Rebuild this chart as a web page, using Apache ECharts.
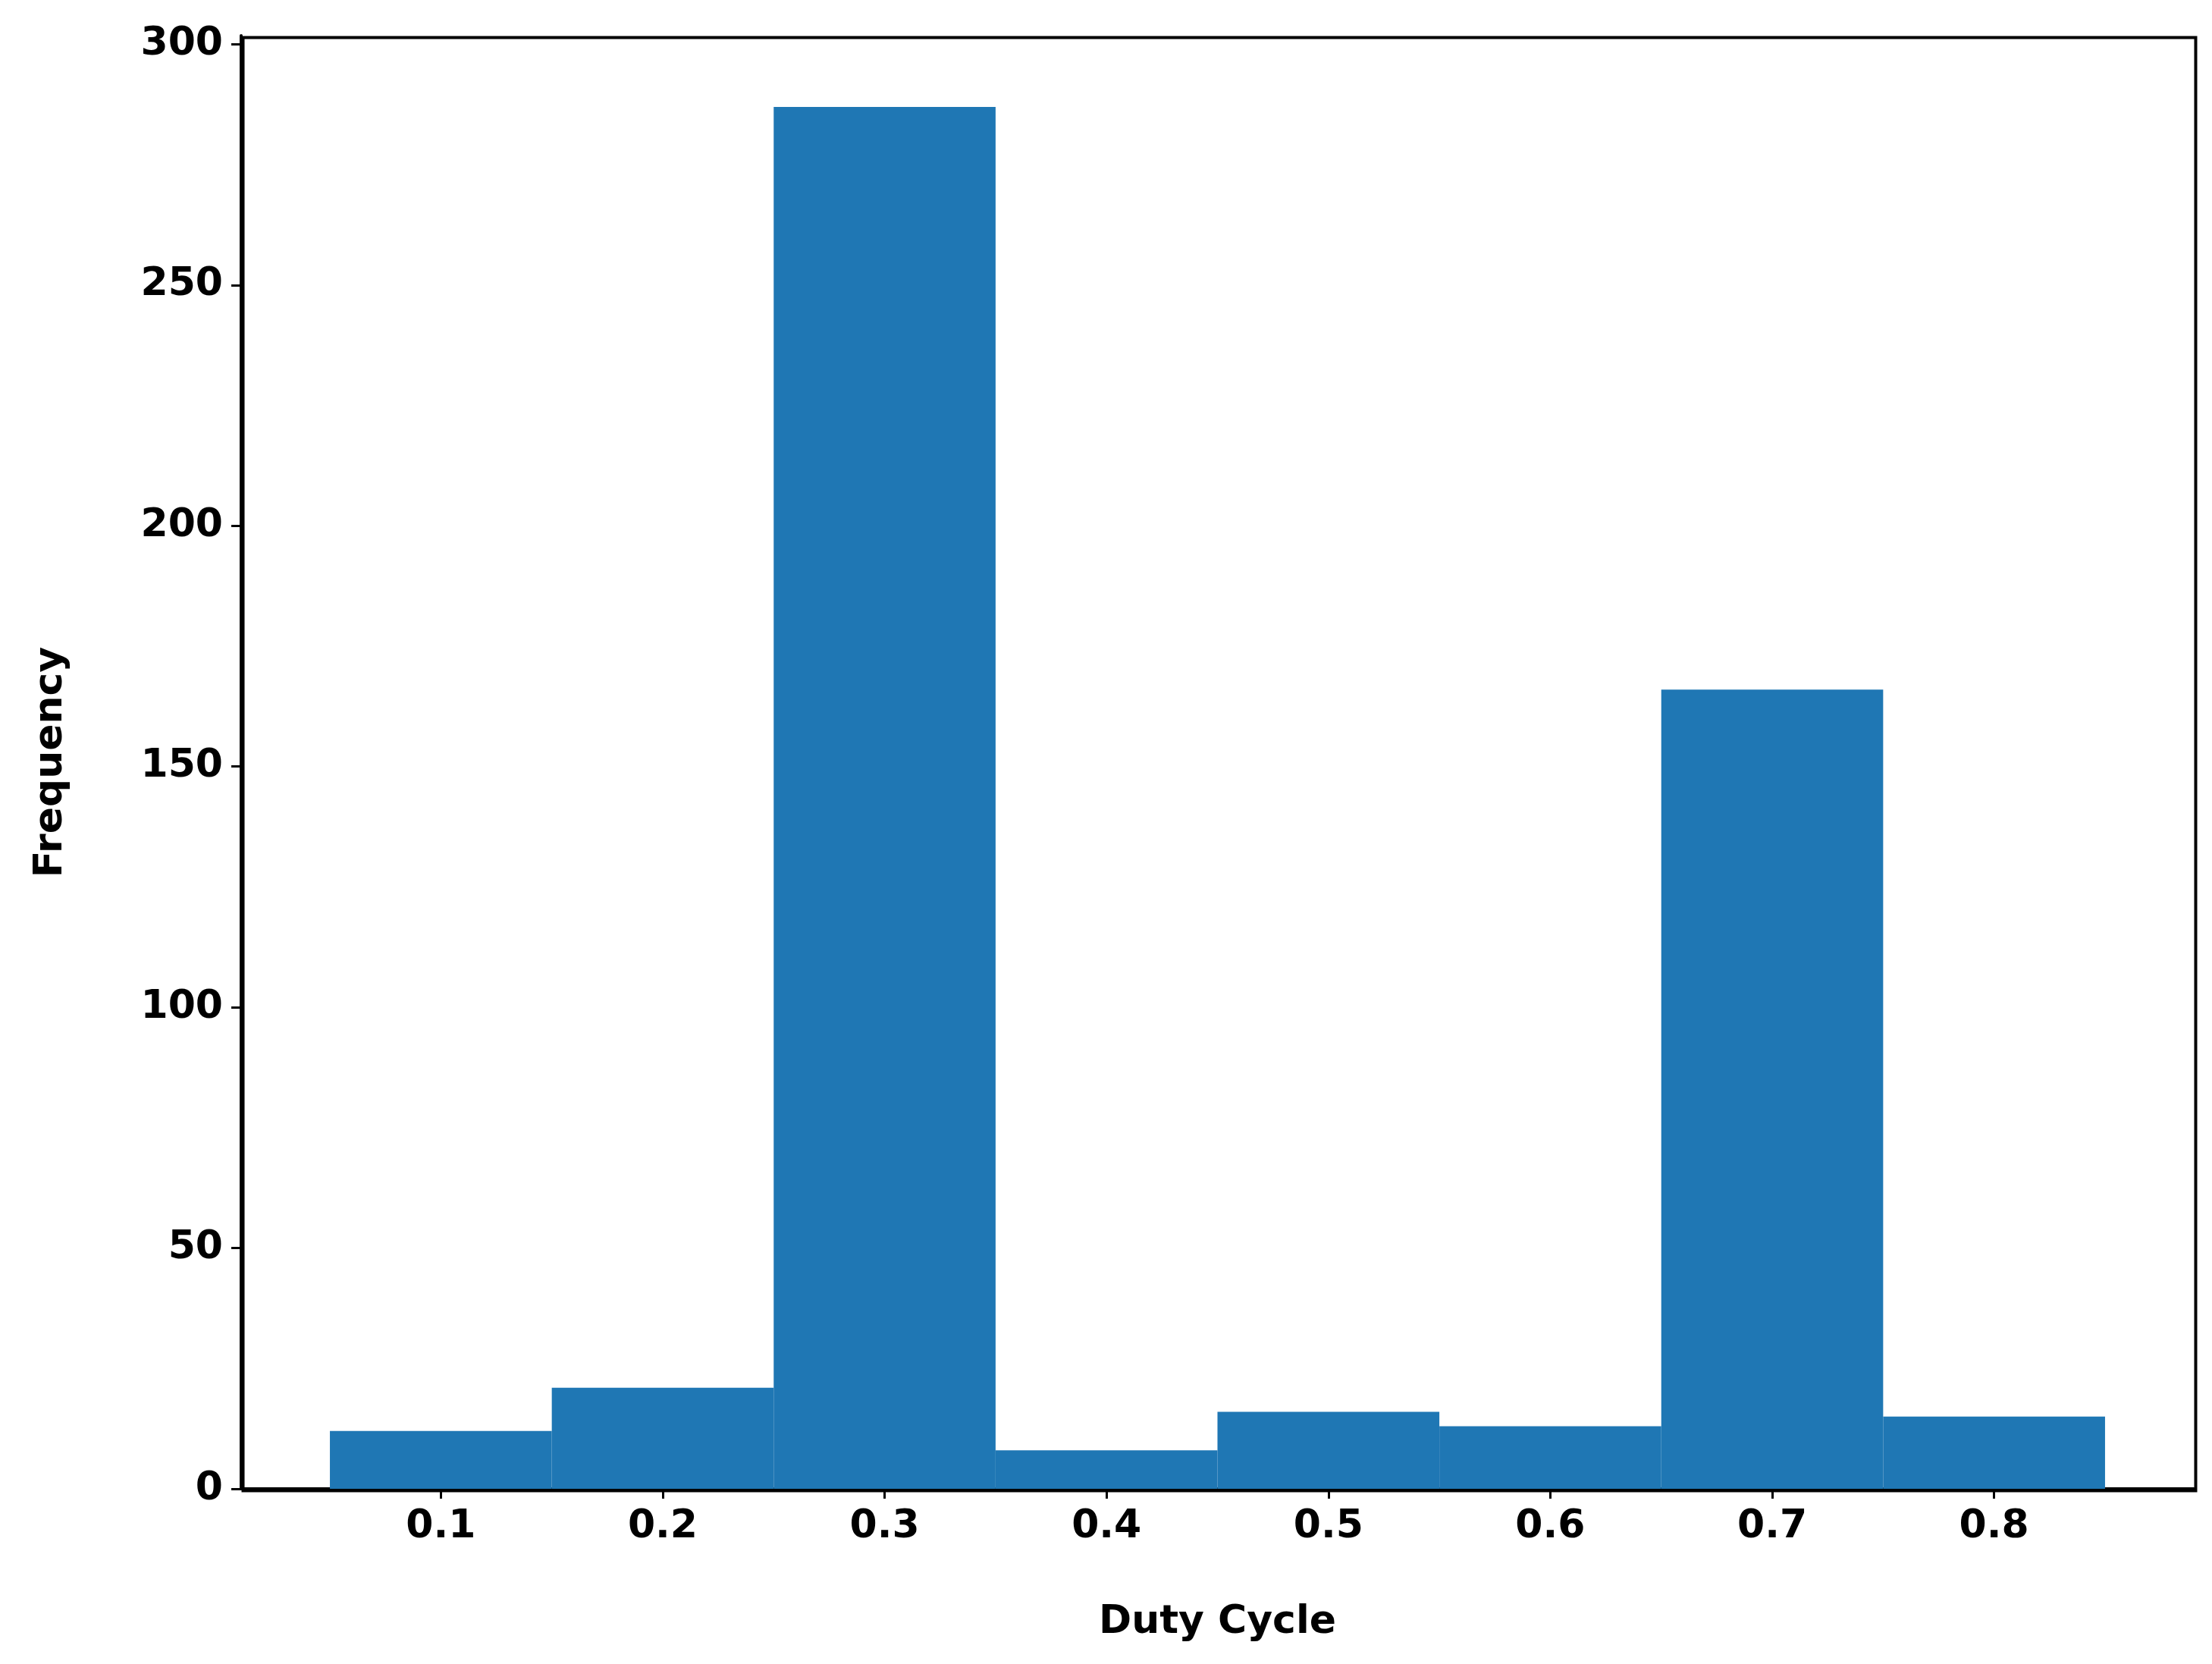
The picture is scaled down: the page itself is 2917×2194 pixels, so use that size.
<!DOCTYPE html>
<html>
<head>
<meta charset="UTF-8">
<script src="https://cdn.jsdelivr.net/npm/echarts@6/dist/echarts.min.js"></script>
<style>
  html, body { margin: 0; padding: 0; background: #fff; }
  #main { width: 2917px; height: 2194px; }
</style>
</head>
<body>
<div id="main"></div>
<script>
// histogram bins (left edge, right edge) and counts
const binStart = [0.05, 0.15, 0.25, 0.35, 0.45, 0.55, 0.65, 0.75];
const binEnd   = [0.15, 0.25, 0.35, 0.45, 0.55, 0.65, 0.75, 0.85];
const counts   = [12, 21, 287, 8, 16, 13, 166, 15];
const xTicks = [0.1, 0.2, 0.3, 0.4, 0.5, 0.6, 0.7, 0.8];

const font = 'DejaVu Sans';
const data = counts.map((c, i) => [binStart[i], binEnd[i], c]);

const chart = echarts.init(document.getElementById('main'));
chart.setOption({
  animation: false,
  grid: { left: 318, right: 24, top: 47, bottom: 231 },
  xAxis: {
    type: 'value', min: 0.01, max: 0.89,
    name: 'Duty Cycle', nameLocation: 'middle', nameGap: 150,
    nameTextStyle: { fontFamily: font, fontWeight: 'bold', fontSize: 52, color: '#000' },
    axisLine: { show: true, lineStyle: { color: '#000', width: 4 } },
    axisTick: { show: true, length: 13, lineStyle: { color: '#000', width: 3 }, customValues: xTicks },
    axisLabel: { fontFamily: font, fontWeight: 'bold', fontSize: 52, color: '#000', margin: 24,
                 customValues: xTicks, formatter: v => v.toFixed(1) },
    splitLine: { show: false }
  },
  yAxis: {
    type: 'value', min: 0, max: 301.8, interval: 50,
    name: 'Frequency', nameLocation: 'middle', nameGap: 225,
    nameTextStyle: { fontFamily: font, fontWeight: 'bold', fontSize: 52, color: '#000' },
    axisLine: { show: true, lineStyle: { color: '#000', width: 4 } },
    axisTick: { show: true, length: 13, lineStyle: { color: '#000', width: 3 } },
    axisLabel: { fontFamily: font, fontWeight: 'bold', fontSize: 52, color: '#000', margin: 24,
                 showMaxLabel: false },
    splitLine: { show: false }
  },
  series: [{
    type: 'custom',
    data: data,
    encode: { x: [0, 1], y: 2 },
    renderItem: function (params, api) {
      const p0 = api.coord([api.value(0), api.value(2)]);
      const p1 = api.coord([api.value(1), 0]);
      return {
        type: 'rect',
        shape: { x: p0[0], y: p0[1], width: p1[0] - p0[0], height: p1[1] - p0[1] },
        style: { fill: '#1f77b4' }
      };
    }
  }],
  graphic: [{
    type: 'rect', left: 318, top: 47,
    shape: { width: 2917 - 24 - 318, height: 2194 - 231 - 47 },
    style: { fill: 'none', stroke: '#000', lineWidth: 4 }, z: 100
  }]
});
</script>
</body>
</html>
